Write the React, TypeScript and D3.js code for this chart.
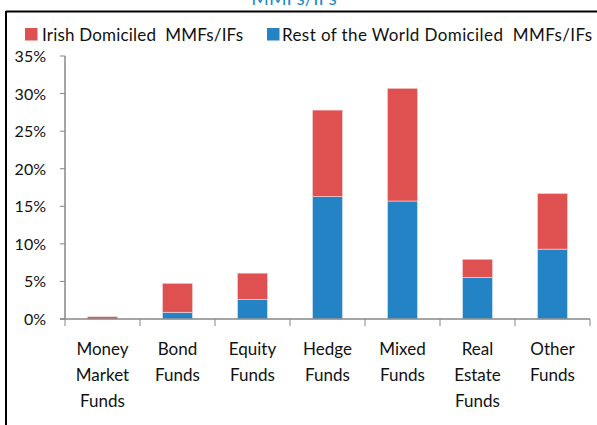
import * as d3 from 'd3';

const [W, H] = [597, 425];

const categories = [
    ['Money', 'Market', 'Funds'],
    ['Bond', 'Funds'],
    ['Equity', 'Funds'],
    ['Hedge', 'Funds'],
    ['Mixed', 'Funds'],
    ['Real', 'Estate', 'Funds'],
    ['Other', 'Funds'],
];
const restOfWorld = [0, 0.9, 2.6, 16.3, 15.7, 5.55, 9.3];
const irish = [0.3, 3.85, 3.5, 11.5, 15.0, 2.4, 7.4];
const yTicks = [0, 5, 10, 15, 20, 25, 30, 35];

const RED = '#df5050';
const BLUE = '#2383c4';
const AXIS = '#878787';
const FONT = 'Lato, "Open Sans", sans-serif';

function App() {
    const x = d3.scaleBand().domain(categories.map((_, i) => String(i))).range([65, 590]).paddingInner(0.6).paddingOuter(0.3);
    const y = d3.scaleLinear().domain([0, 35]).range([319, 56]);
    const step = x.step();
    const edges = d3.range(categories.length + 1).map(i => 65 + i * step);

    return (
        <svg width={W} height={H} style={{position: 'fixed', top: 0, left: 0, fontFamily: FONT}}>
            <rect width={W} height={H} fill="#fff" />
            <text x={294} y={5} textAnchor="middle" fontSize={19} fill="#1f8bc6">MMFs/IFs</text>
            <line x1={6} x2={W} y1={11.5} y2={11.5} stroke="#000" strokeWidth={2} />
            <line x1={6} x2={6} y1={11} y2={H} stroke="#000" strokeWidth={2} />

            <rect x={25} y={28} width={12.5} height={12.5} fill={RED} />
            <text x={42} y={41} fontSize={17} fill="#111" textLength={201} lengthAdjust="spacing" style={{whiteSpace: 'pre'}}>Irish Domiciled  MMFs/IFs</text>
            <rect x={267} y={28} width={12.5} height={12.5} fill={BLUE} />
            <text x={282} y={41} fontSize={17} fill="#111" textLength={310} lengthAdjust="spacing" style={{whiteSpace: 'pre'}}>Rest of the World Domiciled  MMFs/IFs</text>

            {yTicks.map(t => (
                <g key={t}>
                    <line x1={60} x2={65} y1={y(t)} y2={y(t)} stroke={AXIS} />
                    <text x={46} y={y(t) + 6} textAnchor="end" fontSize={16} fill="#111">{t}%</text>
                </g>
            ))}

            {categories.map((c, i) => {
                const bx = x(String(i)) as number;
                const bw = x.bandwidth();
                return (
                    <g key={i}>
                        {restOfWorld[i] > 0 && (
                            <rect x={bx} y={y(restOfWorld[i])} width={bw} height={y(0) - y(restOfWorld[i])} fill={BLUE} stroke="#dbe9f5" strokeWidth={0.6} />
                        )}
                        <rect x={bx} y={y(restOfWorld[i] + irish[i])} width={bw} height={y(restOfWorld[i]) - y(restOfWorld[i] + irish[i])} fill={RED} stroke="#f6d6d6" strokeWidth={0.6} />
                        {c.map((line, j) => (
                            <text key={j} x={bx + bw / 2} y={355 + j * 26} textAnchor="middle" fontSize={17} fill="#111">{line}</text>
                        ))}
                    </g>
                );
            })}

            <line x1={65} x2={65} y1={y(35)} y2={y(0)} stroke={AXIS} strokeWidth={1.5} />
            <line x1={60} x2={590} y1={y(0)} y2={y(0)} stroke={AXIS} strokeWidth={1.5} />
            {edges.map((e, i) => (
                <line key={i} x1={e} x2={e} y1={y(0)} y2={y(0) + 7} stroke={AXIS} />
            ))}
        </svg>
    );
}

export default App;
